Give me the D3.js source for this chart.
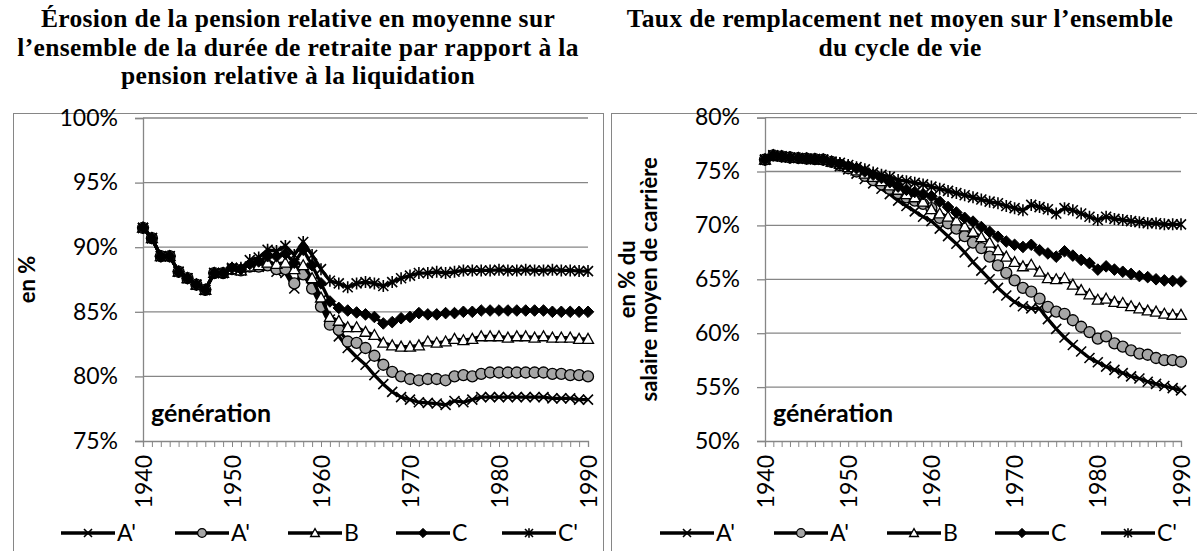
<!DOCTYPE html>
<html>
<head>
<meta charset="utf-8">
<script src="https://cdn.jsdelivr.net/npm/d3@7"></script>
<style>
    body { margin: 0; background: #fff; }
    svg { display: block; }
</style>
</head>
<body>
<svg id="chart" width="1197" height="551"></svg>
<script>
(function () {
    'use strict';

    // generations, one point per year
    var years = d3.range(1940, 1991);
    var yearLabels = [1940, 1950, 1960, 1970, 1980, 1990];
    var seriesNames = ["A'", "A'", 'B', 'C', "C'"];
    var markerTypes = ['x', 'circle', 'triangle', 'diamond', 'asterisk'];

    // left chart: érosion de la pension relative (en %)
    var erosionTicks = [75, 80, 85, 90, 95, 100];
    var erosionA1 = [91.5, 90.7, 89.3, 89.3, 88.1, 87.6, 87.1, 86.7, 88.0, 88.0,
        88.3, 88.2, 88.5, 88.5, 88.5, 88.1, 88.0, 86.8, 88.4, 87.3,
        85.9, 84.4, 83.1, 82.2, 81.5, 80.9, 80.1, 79.4, 78.8, 78.4,
        78.2, 78.0, 77.95, 77.9, 77.8, 78.1, 78.0, 78.2, 78.4, 78.4,
        78.4, 78.4, 78.4, 78.4, 78.4, 78.4, 78.3, 78.3, 78.3, 78.2, 78.2];
    var erosionA2 = [91.5, 90.7, 89.3, 89.3, 88.1, 87.6, 87.1, 86.7, 88.0, 88.0,
        88.3, 88.2, 88.5, 88.5, 88.6, 88.3, 88.3, 87.2, 87.9, 86.8,
        85.4, 84.0, 83.6, 82.7, 82.6, 82.2, 81.6, 80.9, 80.35, 80.0,
        79.8, 79.7, 79.8, 79.8, 79.7, 80.0, 80.1, 80.0, 80.2, 80.3,
        80.3, 80.3, 80.3, 80.3, 80.3, 80.3, 80.2, 80.2, 80.1, 80.1, 80.0];
    var erosionB = [91.5, 90.7, 89.3, 89.3, 88.1, 87.6, 87.1, 86.7, 88.0, 88.0,
        88.3, 88.2, 88.5, 88.6, 88.8, 88.7, 88.8, 88.3, 88.6, 87.6,
        86.1, 84.6, 84.3, 83.8, 83.8, 83.45, 83.2, 82.6, 82.4, 82.3,
        82.3, 82.4, 82.7, 82.6, 82.7, 82.9, 82.8, 82.9, 83.1, 83.1,
        83.1, 83.0, 83.1, 83.1, 83.0, 83.1, 83.0, 83.0, 83.0, 82.9, 82.9];
    var erosionC = [91.5, 90.7, 89.3, 89.3, 88.1, 87.6, 87.1, 86.7, 88.0, 88.0,
        88.4, 88.3, 88.7, 88.9, 89.3, 89.3, 89.5, 88.8, 89.8, 88.6,
        87.2, 85.8, 85.3, 85.1, 84.95, 84.8, 84.6, 84.1, 84.2, 84.5,
        84.6, 84.9, 84.8, 84.8, 84.9, 84.9, 85.0, 85.0, 85.1, 85.1,
        85.1, 85.1, 85.1, 85.1, 85.1, 85.1, 85.0, 85.0, 85.0, 85.0, 85.0];
    var erosionC2 = [91.5, 90.7, 89.3, 89.3, 88.1, 87.6, 87.1, 86.7, 88.0, 88.0,
        88.4, 88.4, 89.0, 89.2, 89.8, 89.7, 90.1, 89.4, 90.4, 89.4,
        88.3, 87.4, 87.2, 86.9, 87.2, 87.3, 87.2, 87.0, 87.3, 87.6,
        87.8, 88.0, 88.0, 88.1, 88.0, 88.1, 88.2, 88.2, 88.2, 88.2,
        88.25, 88.2, 88.2, 88.25, 88.2, 88.2, 88.25, 88.2, 88.2, 88.15, 88.15];

    // right chart: taux de remplacement net moyen (en % du salaire moyen de carrière)
    var tauxTicks = [50, 55, 60, 65, 70, 75, 80];
    var tauxA1 = [76.1, 76.5, 76.4, 76.3, 76.25, 76.2, 76.15, 76.1, 75.9,
        75.5, 75.2, 74.8, 74.3, 73.9, 73.4, 72.9, 72.3, 71.8, 71.3, 70.8,
        70.4, 69.7, 69.0, 68.3, 67.5, 66.6, 65.8, 65.0, 64.2, 63.5,
        62.9, 62.5, 62.3, 62.3, 61.3, 60.4, 59.6, 58.9, 58.3, 57.7,
        57.3, 56.9, 56.6, 56.3, 56.0, 55.8, 55.5, 55.3, 55.1, 54.9, 54.7];
    var tauxA2 = [76.1, 76.5, 76.4, 76.3, 76.25, 76.2, 76.15, 76.1, 75.9,
        75.6, 75.3, 75.0, 74.6, 74.2, 73.8, 73.4, 73.0, 72.6, 72.3, 72.0,
        71.6, 70.7, 70.2, 69.7, 69.0, 68.4, 67.9, 67.1, 66.3, 65.6,
        64.9, 64.2, 63.85, 63.2, 62.45, 62.0, 61.8, 61.2, 60.6, 60.1,
        59.5, 59.7, 59.05, 58.75, 58.4, 58.1, 58.0, 57.7, 57.5, 57.5, 57.35];
    var tauxB = [76.1, 76.5, 76.4, 76.3, 76.25, 76.2, 76.15, 76.1, 75.9,
        75.7, 75.4, 75.1, 74.8, 74.5, 74.1, 73.7, 73.3, 72.9, 72.6, 72.2,
        71.5, 71.1, 70.8, 70.45, 69.9, 69.4, 68.9, 68.4, 67.7, 67.1,
        66.6, 66.2, 66.35, 65.7, 65.1, 65.0, 65.1, 64.5, 64.0, 63.6,
        63.1, 63.2, 62.9, 62.8, 62.5, 62.3, 62.1, 62.0, 61.8, 61.7, 61.7];
    var tauxC = [76.1, 76.5, 76.4, 76.3, 76.25, 76.2, 76.15, 76.1, 75.9,
        75.7, 75.5, 75.3, 75.0, 74.7, 74.4, 74.0, 73.6, 73.3, 73.1, 72.9,
        72.7, 72.2, 71.7, 71.2, 70.7, 70.35, 69.85, 69.4, 68.95, 68.5,
        68.2, 68.0, 68.2, 67.7, 67.4, 67.1, 67.6, 67.2, 66.8, 66.5,
        65.9, 66.2, 65.9, 65.7, 65.5, 65.3, 65.2, 65.0, 64.9, 64.85, 64.8];
    var tauxC2 = [76.1, 76.5, 76.4, 76.3, 76.25, 76.2, 76.15, 76.1, 75.9,
        75.8, 75.6, 75.4, 75.2, 74.9, 74.7, 74.5, 74.2, 74.1, 73.95, 73.8,
        73.6, 73.4, 73.2, 73.0, 72.8, 72.6, 72.4, 72.2, 72.05, 71.8,
        71.6, 71.4, 71.9, 71.7, 71.5, 71.1, 71.6, 71.4, 71.1, 70.8,
        70.5, 70.8, 70.6, 70.5, 70.4, 70.3, 70.2, 70.2, 70.1, 70.1, 70.1];

    var gridColor = '#868686';
    var labelFont = 'Lato, "Open Sans", sans-serif';
    var titleFont = '"Liberation Serif", "Times New Roman", serif';
    var legendOffsets = [0, 114, 227, 335, 441];

    var svg = d3.select('#chart');

    drawPanel({
        box: [13.5, 113.5, 603.5, 560],
        plot: { x0: 143, x1: 588, y0: 118, y1: 441 },
        title: ['Érosion de la pension relative en moyenne sur',
                'l\u2019ensemble de la durée de retraite par rapport à la',
                'pension relative à la liquidation'],
        titleX: 298,
        yTitle: ['en %'],
        yTitleX: 27,
        ticks: erosionTicks,
        series: [erosionA1, erosionA2, erosionB, erosionC, erosionC2],
        legendX: 61
    });

    drawPanel({
        box: [611.5, 113.5, 1200, 560],
        plot: { x0: 765, x1: 1181, y0: 117.6, y1: 441 },
        title: ['Taux de remplacement net moyen sur l\u2019ensemble',
                'du cycle de vie'],
        titleX: 900,
        yTitle: ['en % du', 'salaire moyen de carrière'],
        yTitleX: 627,
        ticks: tauxTicks,
        series: [tauxA1, tauxA2, tauxB, tauxC, tauxC2],
        legendX: 660
    });

    function drawPanel(cfg) {
        var p = cfg.plot;
        var g = svg.append('g');

        g.append('rect')
            .attr('x', cfg.box[0]).attr('y', cfg.box[1])
            .attr('width', cfg.box[2] - cfg.box[0])
            .attr('height', cfg.box[3] - cfg.box[1])
            .attr('fill', 'none')
            .attr('stroke', gridColor)
            .attr('stroke-width', 1);

        // title
        var title = svg.append('text')
            .attr('text-anchor', 'middle')
            .attr('font-family', titleFont)
            .attr('font-weight', 'bold')
            .attr('font-size', 25.5)
            .attr('letter-spacing', 0.35)
            .attr('fill', '#000');
        title.selectAll('tspan')
            .data(cfg.title)
            .enter().append('tspan')
            .attr('x', cfg.titleX)
            .attr('y', function (d, i) { return 27 + i * 28.6; })
            .text(function (d) { return d; });

        var x = d3.scaleLinear()
            .domain([years[0], years[years.length - 1]])
            .range([p.x0, p.x1]);
        var y = d3.scaleLinear()
            .domain([cfg.ticks[0], cfg.ticks[cfg.ticks.length - 1]])
            .range([p.y1, p.y0]);

        // gridlines
        g.append('g')
            .selectAll('line')
            .data(cfg.ticks.slice(1))
            .enter().append('line')
            .attr('x1', p.x0).attr('x2', p.x1)
            .attr('y1', function (d) { return y(d); })
            .attr('y2', function (d) { return y(d); })
            .attr('stroke', gridColor)
            .attr('stroke-width', 1.3);

        // y axis
        var yAxis = d3.axisLeft(y)
            .tickValues(cfg.ticks)
            .tickSize(8)
            .tickPadding(17)
            .tickFormat(function (d) { return d + '%'; });
        var ya = g.append('g')
            .attr('transform', 'translate(' + p.x0 + ',0)')
            .call(yAxis);
        ya.select('.domain').attr('stroke', gridColor).attr('stroke-width', 1.3);
        ya.selectAll('.tick line').attr('stroke', gridColor).attr('stroke-width', 1.3);
        ya.selectAll('.tick text')
            .attr('font-family', labelFont)
            .attr('font-size', 23)
            .attr('fill', '#000');

        // x axis: tick per generation, label every ten years
        var xAxis = d3.axisBottom(x)
            .tickValues(years)
            .tickSize(6)
            .tickFormat(function (d) { return yearLabels.indexOf(d) >= 0 ? d : ''; });
        var xa = g.append('g')
            .attr('transform', 'translate(0,' + p.y1 + ')')
            .call(xAxis);
        xa.select('.domain').attr('stroke', gridColor).attr('stroke-width', 1.3);
        xa.selectAll('.tick line').attr('stroke', gridColor).attr('stroke-width', 1);
        xa.selectAll('.tick text')
            .attr('font-family', labelFont)
            .attr('font-size', 23)
            .attr('fill', '#000')
            .attr('transform', 'rotate(-90)')
            .attr('text-anchor', 'end')
            .attr('x', -14)
            .attr('y', 0)
            .attr('dy', '0.35em');

        // y title
        var yt = g.append('text')
            .attr('transform', 'translate(' + cfg.yTitleX + ',' + ((p.y0 + p.y1) / 2) + ') rotate(-90)')
            .attr('text-anchor', 'middle')
            .attr('font-family', labelFont)
            .attr('font-weight', 'bold')
            .attr('font-size', 22);
        yt.selectAll('tspan')
            .data(cfg.yTitle)
            .enter().append('tspan')
            .attr('x', 0)
            .attr('y', function (d, i) { return i * 22; })
            .attr('dy', '0.35em')
            .text(function (d) { return d; });

        g.append('text')
            .attr('x', p.x0 + 8)
            .attr('y', p.y1 - 19)
            .attr('font-family', labelFont)
            .attr('font-weight', 'bold')
            .attr('font-size', 25)
            .text('génération');

        // series lines + markers, later series drawn on top
        var line = d3.line()
            .x(function (d, i) { return x(years[i]); })
            .y(function (d) { return y(d); });

        cfg.series.forEach(function (values, k) {
            var sg = g.append('g');
            sg.append('path')
                .datum(values)
                .attr('d', line)
                .attr('fill', 'none')
                .attr('stroke', '#000')
                .attr('stroke-width', 3.3)
                .attr('stroke-linejoin', 'round');
            sg.selectAll('.m')
                .data(values)
                .enter().append('path')
                .attr('class', 'm')
                .each(function (d, i) {
                    drawMarker(d3.select(this), markerTypes[k], x(years[i]), y(d));
                });
        });

        // legend
        var ly = 533;
        seriesNames.forEach(function (name, k) {
            var lx = cfg.legendX + legendOffsets[k];
            var lg = g.append('g');
            lg.append('line')
                .attr('x1', lx).attr('x2', lx + 54)
                .attr('y1', ly).attr('y2', ly)
                .attr('stroke', '#000')
                .attr('stroke-width', 3.3);
            drawMarker(lg.append('path'), markerTypes[k], lx + 27, ly, 0.8);
            lg.append('text')
                .attr('x', lx + 56)
                .attr('y', ly)
                .attr('dy', '0.35em')
                .attr('font-family', labelFont)
                .attr('font-size', 23)
                .text(name);
        });
    }

    function drawMarker(sel, type, cx, cy, scale) {
        var s = scale || 1;
        var r = 5 * s;
        var d;
        if (type === 'x') {
            d = 'M' + (cx - r) + ',' + (cy - r) + 'L' + (cx + r) + ',' + (cy + r) +
                'M' + (cx - r) + ',' + (cy + r) + 'L' + (cx + r) + ',' + (cy - r);
            sel.attr('d', d).attr('stroke', '#000').attr('stroke-width', 1.6).attr('fill', 'none');
        } else if (type === 'circle') {
            r = 5.5 * s;
            d = 'M' + (cx + r) + ',' + cy + 'A' + r + ',' + r + ' 0 1,1 ' + (cx - r) + ',' + cy +
                'A' + r + ',' + r + ' 0 1,1 ' + (cx + r) + ',' + cy + 'Z';
            sel.attr('d', d).attr('stroke', '#000').attr('stroke-width', 1.3).attr('fill', '#a6a6a6');
        } else if (type === 'triangle') {
            r = 5.5 * s;
            d = 'M' + cx + ',' + (cy - r) + 'L' + (cx + r) + ',' + (cy + r * 0.8) +
                'L' + (cx - r) + ',' + (cy + r * 0.8) + 'Z';
            sel.attr('d', d).attr('stroke', '#000').attr('stroke-width', 1.3).attr('fill', '#fff');
        } else if (type === 'diamond') {
            r = 5.8 * s;
            d = 'M' + cx + ',' + (cy - r) + 'L' + (cx + r) + ',' + cy +
                'L' + cx + ',' + (cy + r) + 'L' + (cx - r) + ',' + cy + 'Z';
            sel.attr('d', d).attr('stroke', '#000').attr('stroke-width', 1).attr('fill', '#000');
        } else {
            d = 'M' + (cx - r) + ',' + (cy - r) + 'L' + (cx + r) + ',' + (cy + r) +
                'M' + (cx - r) + ',' + (cy + r) + 'L' + (cx + r) + ',' + (cy - r) +
                'M' + cx + ',' + (cy - r * 1.2) + 'L' + cx + ',' + (cy + r * 1.2);
            sel.attr('d', d).attr('stroke', '#000').attr('stroke-width', 1.6).attr('fill', 'none');
        }
    }
})();
</script>
</body>
</html>
